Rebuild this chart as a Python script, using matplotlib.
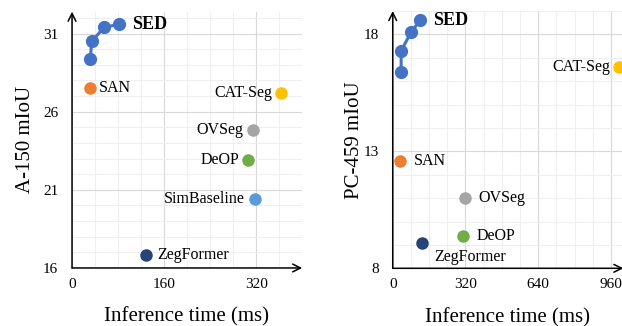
import matplotlib.pyplot as plt
from matplotlib.ticker import MultipleLocator

plt.rcParams["font.family"] = ["Liberation Serif", "DejaVu Serif"]

# A-150 panel
a150_sed_time = [32, 34, 56, 82]
a150_sed_miou = [29.4, 30.5, 31.4, 31.6]
a150_methods = ["SAN", "CAT-Seg", "OVSeg", "DeOP", "SimBaseline", "ZegFormer"]
a150_time = [31, 363, 315, 306, 318, 128]
a150_miou = [27.5, 27.2, 24.8, 22.9, 20.4, 16.8]
a150_xticks = [0, 160, 320]
a150_yticks = [16, 21, 26, 31]

# PC-459 panel
pc459_sed_time = [37, 37, 81, 120]
pc459_sed_miou = [16.4, 17.3, 18.1, 18.6]
pc459_methods = ["SAN", "CAT-Seg", "OVSeg", "DeOP", "ZegFormer"]
pc459_time = [34, 994, 318, 310, 128]
pc459_miou = [12.6, 16.6, 11.0, 9.4, 9.1]
pc459_xticks = [0, 320, 640, 960]
pc459_yticks = [8, 13, 18]

colors = {"SED": "#4472C4", "SAN": "#ED7D31", "CAT-Seg": "#FFC000",
          "OVSeg": "#A5A5A5", "DeOP": "#70AD47", "SimBaseline": "#5B9BD5",
          "ZegFormer": "#264478"}

fig = plt.figure(figsize=(6.22, 3.26), dpi=100)
ax1 = fig.add_axes([0.1158, 0.178, 0.370, 0.786])
ax2 = fig.add_axes([0.6314, 0.177, 0.3708, 0.789])


def style(ax, xlim, ylim, xticks, xmin, yticks):
    ax.set_xlim(*xlim)
    ax.set_ylim(*ylim)
    ax.set_xticks(xticks)
    ax.set_yticks(yticks)
    ax.xaxis.set_minor_locator(MultipleLocator(xmin))
    ax.yaxis.set_minor_locator(MultipleLocator(1))
    ax.grid(which="major", color="#D9D9D9", lw=0.8)
    ax.grid(which="minor", color="#EFEFEF", lw=0.8)
    ax.set_axisbelow(True)
    for s in ax.spines.values():
        s.set_visible(False)
    ax.tick_params(which="both", length=0)
    ax.tick_params(axis="y", pad=10, labelsize=11)
    ax.tick_params(axis="x", pad=7, labelsize=11)
    ax.annotate("", xy=(0, 1.0), xytext=(0, 0), xycoords="axes fraction",
                arrowprops=dict(arrowstyle="->", lw=1.1, color="black",
                                shrinkA=0, shrinkB=0, mutation_scale=14))
    ax.annotate("", xy=(1.0, 0), xytext=(0, 0), xycoords="axes fraction",
                arrowprops=dict(arrowstyle="->", lw=1.1, color="black",
                                shrinkA=0, shrinkB=0, mutation_scale=14))
    ax.set_xlabel("Inference time (ms)", fontsize=15, va="center")
    ax.xaxis.set_label_coords(0.5 if xlim[1] < 500 else 0.5, -0.191)


def label(ax, x, y, text, dx, dy, ha, bold=False):
    ax.annotate(text, (x, y), xytext=(dx * 0.72, dy * 0.72),
                textcoords="offset points", ha=ha, va="center",
                fontsize=13 if bold else 11.5,
                fontweight="bold" if bold else "normal")


# left panel
style(ax1, (0, 400), (16, 32.4), a150_xticks, 40, a150_yticks)
ax1.set_ylabel("A-150 mIoU", fontsize=15, va="center")
ax1.yaxis.set_label_coords(-0.204, 0.5)
ax1.xaxis.set_label_coords(0.496, -0.191)
ax1.plot(a150_sed_time, a150_sed_miou, "-o", color=colors["SED"], lw=2.2, ms=8.5, zorder=3)
label(ax1, a150_sed_time[-1], a150_sed_miou[-1], "SED", 13, 0, "left", bold=True)
for m, x, y in zip(a150_methods, a150_time, a150_miou):
    ax1.plot(x, y, "o", color=colors[m], ms=8, zorder=3)
a150_offsets = {"SAN": (9, 0, "left"), "CAT-Seg": (-9, 0, "right"),
                "OVSeg": (-10, 0, "right"), "DeOP": (-9, 0, "right"),
                "SimBaseline": (-10, 0, "right"), "ZegFormer": (12, 0, "left")}
for m, x, y in zip(a150_methods, a150_time, a150_miou):
    dx, dy, ha = a150_offsets[m]
    label(ax1, x, y, m, dx, dy, ha)

# right panel
style(ax2, (0, 1015), (8, 19), pc459_xticks, 80, pc459_yticks)
ax2.set_ylabel("PC-459 mIoU", fontsize=15, va="center")
ax2.yaxis.set_label_coords(-0.165, 0.5)
ax2.xaxis.set_label_coords((508 - 393) / 230.5, -0.191)
ax2.plot(pc459_sed_time, pc459_sed_miou, "-o", color=colors["SED"], lw=2.2, ms=8.5, zorder=3)
label(ax2, pc459_sed_time[-1], pc459_sed_miou[-1], "SED", 13, 0, "left", bold=True)
for m, x, y in zip(pc459_methods, pc459_time, pc459_miou):
    ax2.plot(x, y, "o", color=colors[m], ms=8, zorder=3)
pc459_offsets = {"SAN": (13, 0, "left"), "CAT-Seg": (-8, 0, "right"),
                 "OVSeg": (13, 0, "left"), "DeOP": (13, 0, "left"),
                 "ZegFormer": (12, -14, "left")}
for m, x, y in zip(pc459_methods, pc459_time, pc459_miou):
    dx, dy, ha = pc459_offsets[m]
    label(ax2, x, y, m, dx, dy, ha)

fig.savefig("out.png", dpi=100)
